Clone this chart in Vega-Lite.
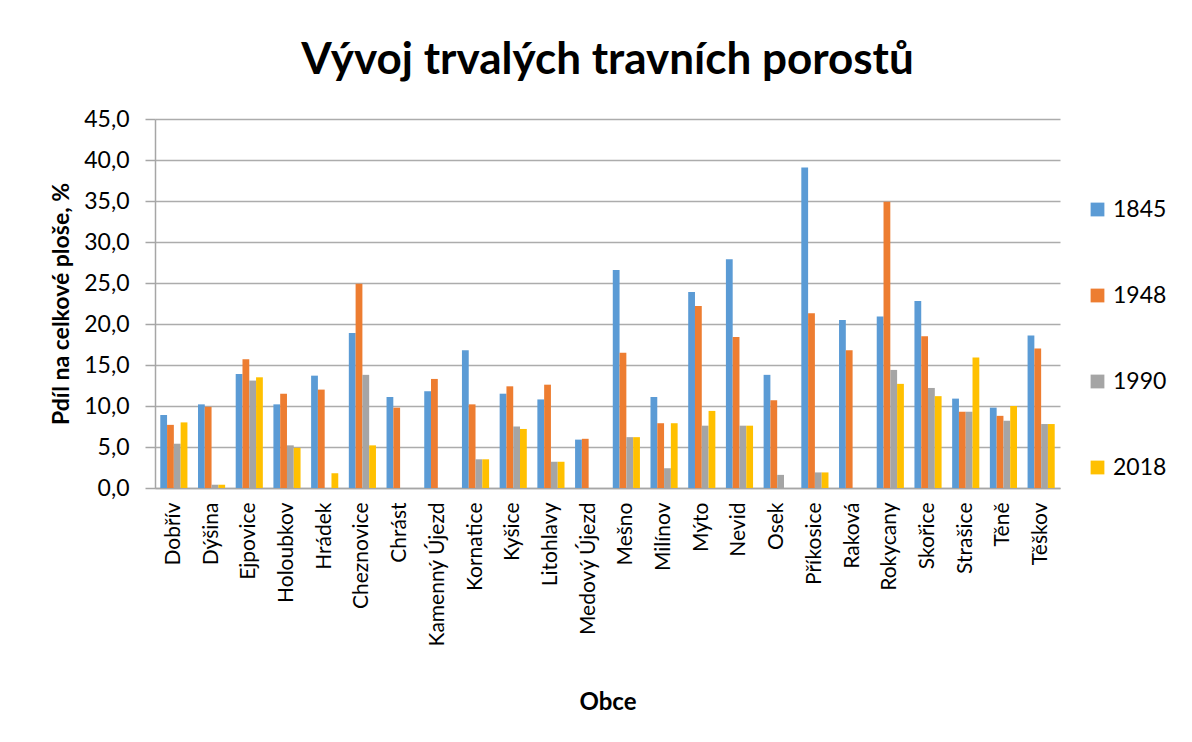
{
  "$schema": "https://vega.github.io/schema/vega-lite/v6.json",
  "width": 905,
  "height": 369,
  "autosize": {"type": "none"},
  "padding": {"left": 155, "top": 119, "right": 132, "bottom": 254},
  "background": "white",
  "title": {
    "text": "Vývoj trvalých travních porostů",
    "font": "Lato",
    "fontSize": 44,
    "fontWeight": "bold",
    "color": "#000000",
    "anchor": "middle",
    "frame": "group",
    "offset": 25
  },
  "data": {
    "values": [
      {"obec": "Dobřív", "rok": "1845", "hodnota": 8.9},
      {"obec": "Dobřív", "rok": "1948", "hodnota": 7.7},
      {"obec": "Dobřív", "rok": "1990", "hodnota": 5.4},
      {"obec": "Dobřív", "rok": "2018", "hodnota": 8.0},
      {"obec": "Dýšina", "rok": "1845", "hodnota": 10.2},
      {"obec": "Dýšina", "rok": "1948", "hodnota": 9.9},
      {"obec": "Dýšina", "rok": "1990", "hodnota": 0.4},
      {"obec": "Dýšina", "rok": "2018", "hodnota": 0.4},
      {"obec": "Ejpovice", "rok": "1845", "hodnota": 13.9},
      {"obec": "Ejpovice", "rok": "1948", "hodnota": 15.7},
      {"obec": "Ejpovice", "rok": "1990", "hodnota": 13.1},
      {"obec": "Ejpovice", "rok": "2018", "hodnota": 13.5},
      {"obec": "Holoubkov", "rok": "1845", "hodnota": 10.2},
      {"obec": "Holoubkov", "rok": "1948", "hodnota": 11.5},
      {"obec": "Holoubkov", "rok": "1990", "hodnota": 5.2},
      {"obec": "Holoubkov", "rok": "2018", "hodnota": 4.9},
      {"obec": "Hrádek", "rok": "1845", "hodnota": 13.7},
      {"obec": "Hrádek", "rok": "1948", "hodnota": 12.0},
      {"obec": "Hrádek", "rok": "2018", "hodnota": 1.8},
      {"obec": "Cheznovice", "rok": "1845", "hodnota": 18.9},
      {"obec": "Cheznovice", "rok": "1948", "hodnota": 24.9},
      {"obec": "Cheznovice", "rok": "1990", "hodnota": 13.8},
      {"obec": "Cheznovice", "rok": "2018", "hodnota": 5.2},
      {"obec": "Chrást", "rok": "1845", "hodnota": 11.1},
      {"obec": "Chrást", "rok": "1948", "hodnota": 9.8},
      {"obec": "Kamenný Újezd", "rok": "1845", "hodnota": 11.8},
      {"obec": "Kamenný Újezd", "rok": "1948", "hodnota": 13.3},
      {"obec": "Kornatice", "rok": "1845", "hodnota": 16.8},
      {"obec": "Kornatice", "rok": "1948", "hodnota": 10.2},
      {"obec": "Kornatice", "rok": "1990", "hodnota": 3.5},
      {"obec": "Kornatice", "rok": "2018", "hodnota": 3.5},
      {"obec": "Kyšice", "rok": "1845", "hodnota": 11.5},
      {"obec": "Kyšice", "rok": "1948", "hodnota": 12.4},
      {"obec": "Kyšice", "rok": "1990", "hodnota": 7.5},
      {"obec": "Kyšice", "rok": "2018", "hodnota": 7.2},
      {"obec": "Litohlavy", "rok": "1845", "hodnota": 10.8},
      {"obec": "Litohlavy", "rok": "1948", "hodnota": 12.6},
      {"obec": "Litohlavy", "rok": "1990", "hodnota": 3.2},
      {"obec": "Litohlavy", "rok": "2018", "hodnota": 3.2},
      {"obec": "Medový Újezd", "rok": "1845", "hodnota": 5.9},
      {"obec": "Medový Újezd", "rok": "1948", "hodnota": 6.0},
      {"obec": "Mešno", "rok": "1845", "hodnota": 26.6},
      {"obec": "Mešno", "rok": "1948", "hodnota": 16.5},
      {"obec": "Mešno", "rok": "1990", "hodnota": 6.2},
      {"obec": "Mešno", "rok": "2018", "hodnota": 6.2},
      {"obec": "Milínov", "rok": "1845", "hodnota": 11.1},
      {"obec": "Milínov", "rok": "1948", "hodnota": 7.9},
      {"obec": "Milínov", "rok": "1990", "hodnota": 2.4},
      {"obec": "Milínov", "rok": "2018", "hodnota": 7.9},
      {"obec": "Mýto", "rok": "1845", "hodnota": 23.9},
      {"obec": "Mýto", "rok": "1948", "hodnota": 22.2},
      {"obec": "Mýto", "rok": "1990", "hodnota": 7.6},
      {"obec": "Mýto", "rok": "2018", "hodnota": 9.4},
      {"obec": "Nevid", "rok": "1845", "hodnota": 27.9},
      {"obec": "Nevid", "rok": "1948", "hodnota": 18.4},
      {"obec": "Nevid", "rok": "1990", "hodnota": 7.6},
      {"obec": "Nevid", "rok": "2018", "hodnota": 7.6},
      {"obec": "Osek", "rok": "1845", "hodnota": 13.8},
      {"obec": "Osek", "rok": "1948", "hodnota": 10.7},
      {"obec": "Osek", "rok": "1990", "hodnota": 1.6},
      {"obec": "Příkosice", "rok": "1845", "hodnota": 39.1},
      {"obec": "Příkosice", "rok": "1948", "hodnota": 21.3},
      {"obec": "Příkosice", "rok": "1990", "hodnota": 1.9},
      {"obec": "Příkosice", "rok": "2018", "hodnota": 1.9},
      {"obec": "Raková", "rok": "1845", "hodnota": 20.5},
      {"obec": "Raková", "rok": "1948", "hodnota": 16.8},
      {"obec": "Rokycany", "rok": "1845", "hodnota": 20.9},
      {"obec": "Rokycany", "rok": "1948", "hodnota": 34.9},
      {"obec": "Rokycany", "rok": "1990", "hodnota": 14.4},
      {"obec": "Rokycany", "rok": "2018", "hodnota": 12.7},
      {"obec": "Skořice", "rok": "1845", "hodnota": 22.8},
      {"obec": "Skořice", "rok": "1948", "hodnota": 18.5},
      {"obec": "Skořice", "rok": "1990", "hodnota": 12.2},
      {"obec": "Skořice", "rok": "2018", "hodnota": 11.2},
      {"obec": "Strašice", "rok": "1845", "hodnota": 10.9},
      {"obec": "Strašice", "rok": "1948", "hodnota": 9.3},
      {"obec": "Strašice", "rok": "1990", "hodnota": 9.3},
      {"obec": "Strašice", "rok": "2018", "hodnota": 15.9},
      {"obec": "Těně", "rok": "1845", "hodnota": 9.8},
      {"obec": "Těně", "rok": "1948", "hodnota": 8.8},
      {"obec": "Těně", "rok": "1990", "hodnota": 8.2},
      {"obec": "Těně", "rok": "2018", "hodnota": 10.0},
      {"obec": "Těškov", "rok": "1845", "hodnota": 18.6},
      {"obec": "Těškov", "rok": "1948", "hodnota": 17.0},
      {"obec": "Těškov", "rok": "1990", "hodnota": 7.8},
      {"obec": "Těškov", "rok": "2018", "hodnota": 7.8}
    ]
  },
  "mark": {"type": "bar"},
  "encoding": {
    "x": {
      "field": "obec",
      "type": "nominal",
      "sort": null,
      "scale": {"paddingInner": 0.28, "paddingOuter": 0.14},
      "axis": {
        "title": "Obce",
        "titleFont": "Lato",
        "titleFontSize": 24,
        "titleFontWeight": "bold",
        "titleColor": "#000000",
        "titlePadding": 44,
        "labelAngle": -90,
        "labelFont": "Lato",
        "labelFontSize": 21,
        "labelColor": "#000000",
        "labelPadding": 14,
        "labelLimit": 300,
        "ticks": false,
        "domainColor": "#a6a6a6",
        "domainWidth": 1.5,
        "grid": false
      }
    },
    "xOffset": {
      "field": "rok",
      "type": "nominal",
      "scale": {"paddingInner": 0, "paddingOuter": 0}
    },
    "y": {
      "field": "hodnota",
      "type": "quantitative",
      "scale": {"domain": [0, 45]},
      "axis": {
        "title": "Pdíl na celkové ploše, %",
        "titleFont": "Lato",
        "titleFontSize": 23,
        "titleFontWeight": "bold",
        "titleColor": "#000000",
        "titlePadding": 10,
        "values": [0, 5, 10, 15, 20, 25, 30, 35, 40, 45],
        "labelExpr": "replace(format(datum.value, '.1f'), '.', ',')",
        "labelFont": "Lato",
        "labelFontSize": 23,
        "labelColor": "#000000",
        "labelPadding": 16,
        "tickSize": 10,
        "tickColor": "#a6a6a6",
        "tickWidth": 1.5,
        "domainColor": "#a6a6a6",
        "domainWidth": 1.5,
        "grid": true,
        "gridColor": "#acacac",
        "gridWidth": 1.5
      }
    },
    "color": {
      "field": "rok",
      "type": "nominal",
      "scale": {
        "domain": ["1845", "1948", "1990", "2018"],
        "range": ["#5B9BD5", "#ED7D31", "#A5A5A5", "#FFC000"]
      },
      "legend": {
        "title": null,
        "orient": "none",
        "legendX": 931,
        "legendY": 79,
        "symbolType": "square",
        "symbolSize": 190,
        "symbolStrokeWidth": 0,
        "symbolOpacity": 1,
        "labelFont": "Lato",
        "labelFontSize": 23,
        "labelColor": "#000000",
        "labelOffset": 4,
        "rowPadding": 62
      }
    }
  },
  "config": {
    "view": {"stroke": null}
  }
}
